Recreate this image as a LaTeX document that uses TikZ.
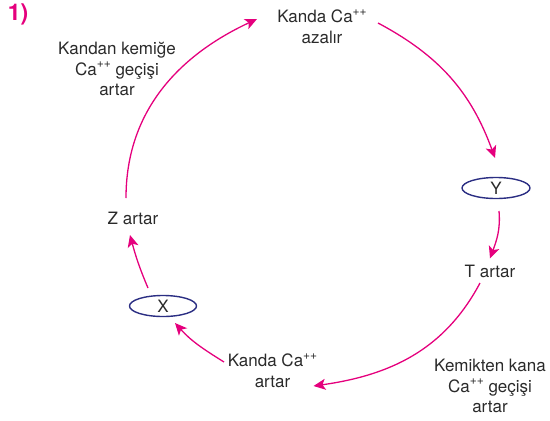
\documentclass[tikz,border=0pt]{standalone}
\usepackage{fontspec}
\setmainfont{TeX Gyre Heros}
\usetikzlibrary{arrows.meta,shapes.geometric}
\definecolor{mag}{HTML}{E5007D}
\definecolor{navy}{HTML}{2B2E83}
\definecolor{txt}{HTML}{2A2A2A}
\newcommand{\pp}{\raisebox{0.45em}{\fontsize{12}{12}\selectfont ++}}
\tikzset{
  lbl/.style={inner sep=0pt, align=center, text=txt, font=\fontsize{17}{20.5}\selectfont},
  oval/.style={ellipse, draw=navy, line width=1.4pt, minimum width=68pt, minimum height=21pt, inner sep=0pt, text=txt, font=\fontsize{17}{20.5}\selectfont},
  arr/.style={draw=mag, line width=1.3pt, -{Stealth[length=12pt,width=11pt,inset=3pt]}}
}
\begin{document}
\begin{tikzpicture}[x=1pt,y=-1pt]
\useasboundingbox (0,0) rectangle (550,421);
\node[inner sep=0pt, text=mag, font=\fontsize{23}{24}\selectfont\bfseries] (num) at (18,14) {1)};
\node[lbl] (kk) at (117,69) {Kandan kemiğe\\Ca\pp{} geçişi\\artar};
\node[lbl] (top) at (322,26.5) {Kanda Ca\pp\\azalır};
\node[oval] (y) at (496,188) {Y};
\node[lbl] (tart) at (490,271.5) {T artar};
\node[lbl] (kem) at (490,386) {Kemikten kana\\Ca\pp{} geçişi\\artar};
\node[lbl] (kart) at (272.5,370.5) {Kanda Ca\pp\\artar};
\node[oval, minimum width=67pt] (x) at (163,306) {X};
\node[lbl] (z) at (133,218.5) {Z artar};
\draw[arr] ([shift={(-7,-20.5)}]z.center) to[out=90,in=205] ([shift={(-65,-7.5)}]top.center);
\draw[arr] ([shift={(56,-3.5)}]top.center) to[out=-28,in=110] ([shift={(-1,-30)}]y.center);
\draw[arr] ([shift={(3,23)}]y.center) to[out=-85,in=70] ([shift={(0,-13)}]tart.center);
\draw[arr] ([shift={(-10,11.5)}]tart.center) to[out=-118,in=8] ([shift={(41,15.5)}]kart.center);
\draw[arr] ([shift={(-48.5,-8.5)}]kart.center) to[out=148,in=-48] ([shift={(12,17)}]x.center);
\draw[arr] ([shift={(-15,-18)}]x.center) to[out=113,in=-75] ([shift={(-3,16.5)}]z.center);
\end{tikzpicture}
\end{document}
